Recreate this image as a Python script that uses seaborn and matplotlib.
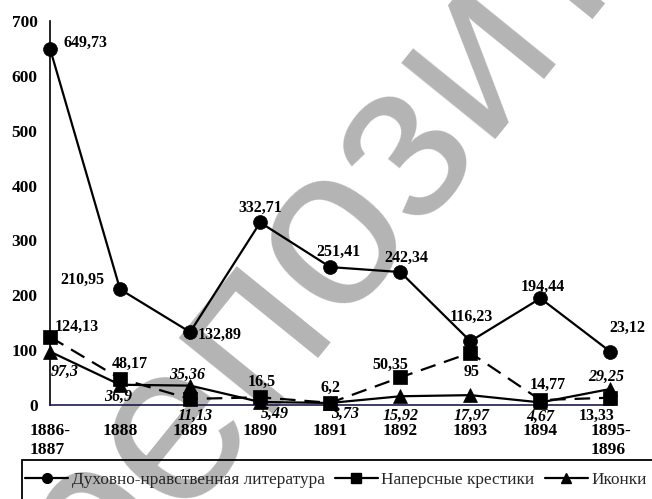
import numpy as np
import pandas as pd
import matplotlib
matplotlib.use("Agg")
import matplotlib.pyplot as plt
import seaborn as sns
from matplotlib.lines import Line2D
from matplotlib.patches import Rectangle

# ---------------- data ----------------
categories = ["1886-\n1887", "1888", "1889", "1890", "1891", "1892", "1893", "1894", "1895-\n1896"]
series_names = ["Духовно-нравственная литература", "Наперсные крестики", "Иконки"]

lit_values = [649.73, 210.95, 132.89, 332.71, 251.41, 242.34, 116.23, 194.44, 97.0]
lit_labels = ["649,73", "210,95", "132,89", "332,71", "251,41", "242,34", "116,23", "194,44", "23,12"]

cross_values = [124.13, 48.17, 11.13, 14.0, 4.0, 50.35, 95.0, 9.0, 13.33]
cross_labels = ["124,13", "48,17", "11,13", "16,5", "6,2", "50,35", "95", "14,77", "13,33"]

icon_values = [97.3, 36.9, 35.36, 5.49, 3.73, 15.92, 17.97, 4.67, 29.25]
icon_labels = ["97,3", "36,9", "35,36", "5,49", "3,73", "15,92", "17,97", "4,67", "29,25"]

yticks = [0, 100, 200, 300, 400, 500, 600, 700]

# ---------------- layout / style (label offsets in pixels) ----------------
lit_off = [(35, 6), (-38, 9), (30, -3), (0, 15), (8, 15), (6, 14), (1, 24), (2, 11), (17, 24)]
lit_italic = [False] * 9
cross_off = [(27, 10), (10, 15), (5, -17), (2, 15), (0, 15), (-10, 13), (1, -19), (7, 15), (-14, -18)]
cross_italic = [False, False, True, False, False, False, False, False, False]
icon_off = [(15, -20), (-2, -12), (-3, 11), (15, -12), (15, -11), (0, -20), (1, -21), (0, -14), (-4, 12)]
icon_italic = [True] * 9

sns.set_theme(style="white")
plt.rcParams['font.family'] = ['Liberation Serif', 'DejaVu Serif']

W, H = 652, 499
fig = plt.figure(figsize=(W / 100, H / 100), dpi=100)
fig.patch.set_facecolor("white")
ax = fig.add_axes([50 / W, 1 - 405 / H, 564 / W, 384 / H])
ax.set_facecolor("none")

# watermark (under everything)
fig.text(98 / W, 1 - 612 / H, "репозиторий", rotation=51, rotation_mode="anchor",
         ha="left", va="baseline", fontsize=165, color="#b4b4b4",
         family="Liberation Sans", zorder=-5)

df = pd.DataFrame({
    "x": np.tile(np.arange(len(categories)), 3),
    "value": lit_values + cross_values + icon_values,
    "series": np.repeat(series_names, len(categories)),
})

sns.lineplot(
    data=df, x="x", y="value", hue="series", style="series",
    palette=["black"] * 3,
    markers={series_names[0]: "o", series_names[1]: "s", series_names[2]: "^"},
    dashes={series_names[0]: "", series_names[1]: (7, 4), series_names[2]: ""},
    markersize=10, linewidth=1.6, markeredgecolor="black", markeredgewidth=0.5,
    sort=False, legend=False, ax=ax, clip_on=False, zorder=3,
)

ax.set_xlim(0, 8.05)
ax.set_ylim(0, 700)
ax.set_xticks(range(len(categories)))
ax.set_xticklabels(categories, fontsize=12.5, fontweight="bold", linespacing=1.25,
                   multialignment="left")
ax.set_yticks(yticks)
ax.set_yticklabels([str(t) for t in yticks], fontsize=12.5, fontweight="bold")
ax.tick_params(axis="x", direction="out", length=5, width=1, pad=8, colors="black")
ax.tick_params(axis="y", direction="out", length=6, width=1, pad=3, colors="black")
ax.set_xlabel("")
ax.set_ylabel("")
for s in ["top", "right"]:
    ax.spines[s].set_visible(False)
ax.spines["left"].set_color("black")
ax.spines["left"].set_linewidth(1.2)
ax.spines["bottom"].set_color("#1c1c4a")
ax.spines["bottom"].set_linewidth(1.2)


def annotate(values, labels, offs, italic):
    for i, (v, lab, off, it) in enumerate(zip(values, labels, offs, italic)):
        ax.annotate(lab, xy=(i, v), xytext=off, textcoords="offset pixels",
                    ha="center", va="center", fontsize=11.5, fontweight="bold",
                    fontstyle="italic" if it else "normal", color="black",
                    zorder=5, annotation_clip=False)


annotate(lit_values, lit_labels, lit_off, lit_italic)
annotate(cross_values, cross_labels, cross_off, cross_italic)
annotate(icon_values, icon_labels, icon_off, icon_italic)

# legend
handles = [
    Line2D([], [], color="black", lw=1.6, marker="o", markersize=7),
    Line2D([], [], color="black", lw=1.6, marker="s", markersize=7),
    Line2D([], [], color="black", lw=1.6, marker="^", markersize=7),
]
fig.legend(handles, series_names, loc="center left",
           bbox_to_anchor=(25 / W, 1 - 480 / H), ncol=3, frameon=False,
           handlelength=2.5, handletextpad=0.2, columnspacing=0.6,
           borderpad=0, borderaxespad=0, prop={"size": 12.4})
fig.patches.append(Rectangle((22 / W, -0.1), 1.1, (1 - 460 / H) + 0.1,
                             transform=fig.transFigure, fill=False,
                             edgecolor="black", lw=1.3, zorder=2))

fig.savefig("out.png", dpi=100)
